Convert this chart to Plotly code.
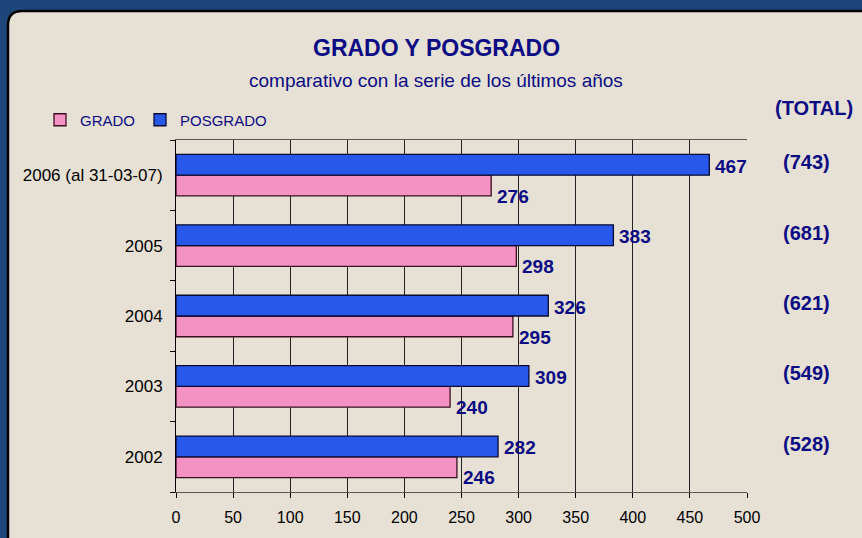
import plotly.graph_objects as go

categories = ["2002", "2003", "2004", "2005", "2006 (al 31-03-07)"]
grado = [246, 240, 295, 298, 276]
posgrado = [282, 309, 326, 383, 467]
totals = ["(528)", "(549)", "(621)", "(681)", "(743)"]
x_ticks = [0, 50, 100, 150, 200, 250, 300, 350, 400, 450, 500]

W, H = 862, 538
ML, MR, MT, MB = 176, 115, 140, 46
PW, PH = W - ML - MR, H - MT - MB

def px_x(p):
    return (p - ML) / PW

def px_y(p):
    return (H - MB - p) / PH

NAVY = "#0b0b84"
FONT = "Liberation Sans, Arial, sans-serif"

fig = go.Figure()
fig.add_trace(go.Bar(
    y=categories, x=grado, name="GRADO", orientation="h",
    marker=dict(color="#f592c4", line=dict(color="#3a1020", width=1.3)),
))
fig.add_trace(go.Bar(
    y=categories, x=posgrado, name="POSGRADO", orientation="h",
    marker=dict(color="#2858ea", line=dict(color="#0a0a30", width=1.3)),
))

annotations = []
for i, (g, p, t) in enumerate(zip(grado, posgrado, totals)):
    annotations.append(dict(x=p, y=i, xref="x", yref="y", text=f"<b>{p}</b>",
                            showarrow=False, xanchor="left", yanchor="middle",
                            xshift=4, yshift=9,
                            font=dict(size=19, color=NAVY, family=FONT)))
    annotations.append(dict(x=g, y=i, xref="x", yref="y", text=f"<b>{g}</b>",
                            showarrow=False, xanchor="left", yanchor="middle",
                            xshift=4, yshift=-21,
                            font=dict(size=19, color=NAVY, family=FONT)))
    annotations.append(dict(x=px_x(806), y=i, xref="paper", yref="y", text=f"<b>{t}</b>",
                            showarrow=False, xanchor="center", yanchor="middle", yshift=13,
                            font=dict(size=20, color=NAVY, family=FONT)))
annotations.append(dict(x=px_x(814), y=px_y(108), xref="paper", yref="paper",
                        text="<b>(TOTAL)</b>", showarrow=False, xanchor="center",
                        yanchor="middle", font=dict(size=20, color=NAVY, family=FONT)))
annotations.append(dict(x=px_x(436), y=px_y(48), xref="paper", yref="paper",
                        text="<b>GRADO Y POSGRADO</b>", showarrow=False, xanchor="center",
                        yanchor="middle", font=dict(size=23, color=NAVY, family=FONT)))
annotations.append(dict(x=px_x(436), y=px_y(81), xref="paper", yref="paper",
                        text="comparativo con la serie de los últimos años", showarrow=False,
                        xanchor="center", yanchor="middle",
                        font=dict(size=19, color=NAVY, family=FONT)))

L, T, R, B, r = px_x(8), px_y(11), px_x(875), px_y(545), 14
path = (f"M {L} {B} L {L} {px_y(11 + r)} Q {L} {T} {px_x(8 + r)} {T} "
        f"L {R} {T} L {R} {B} Z")

fig.update_layout(
    width=W, height=H,
    margin=dict(l=ML, r=MR, t=MT, b=MB, autoexpand=False),
    paper_bgcolor="#1d477a",
    plot_bgcolor="rgba(0,0,0,0)",
    barmode="group", bargap=0.41, bargroupgap=0,
    font=dict(family=FONT, color="#000000", size=15),
    showlegend=True,
    legend=dict(orientation="h", x=px_x(40), y=px_y(120), xanchor="left", yanchor="middle",
                font=dict(size=15, color=NAVY, family=FONT), bgcolor="rgba(0,0,0,0)",
                itemwidth=30, traceorder="normal"),
    shapes=[dict(type="path", path=path, xref="paper", yref="paper",
                 fillcolor="#e7e1d5", line=dict(color="#000000", width=2.5), layer="below")],
    annotations=annotations,
    xaxis=dict(range=[0, 500], tickvals=x_ticks, showgrid=True, gridcolor="#222222",
               gridwidth=1, showline=True, linecolor="#555555", mirror=True,
               ticks="outside", ticklen=5, tickcolor="#000000", zeroline=False,
               automargin=False, tickfont=dict(size=16, color="#000000"),
               ticklabelstandoff=6),
    yaxis=dict(type="category", categoryorder="array", categoryarray=categories,
               range=[-0.5, len(categories) - 0.5],
               showline=True, linecolor="#000000", ticks="outside", ticklen=5,
               tickson="boundaries", tickcolor="#000000", showgrid=False, automargin=False,
               tickfont=dict(size=17, color="#000000"), ticklabelstandoff=9),
)

fig.write_html("out.html", config={"displayModeBar": False},
               post_script="document.body.style.margin='0';")
